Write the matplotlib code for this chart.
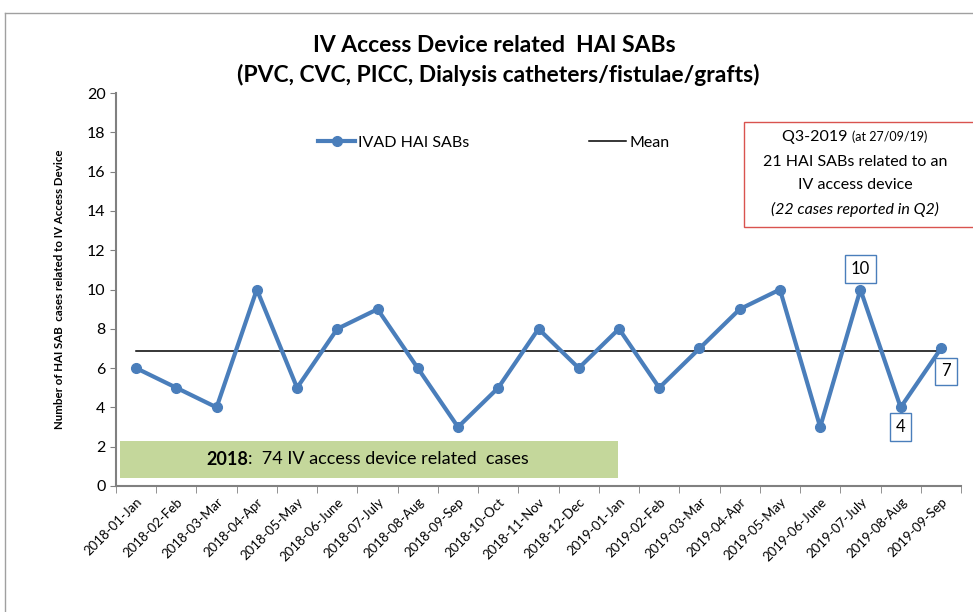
import matplotlib.pyplot as plt
from matplotlib.patches import Rectangle
from matplotlib.text import Annotation
import numpy as np

plt.rcParams['font.family'] = ['Lato', 'DejaVu Sans']

months = ["2018-01-Jan", "2018-02-Feb", "2018-03-Mar", "2018-04-Apr", "2018-05-May",
          "2018-06-June", "2018-07-July", "2018-08-Aug", "2018-09-Sep", "2018-10-Oct",
          "2018-11-Nov", "2018-12-Dec", "2019-01-Jan", "2019-02-Feb", "2019-03-Mar",
          "2019-04-Apr", "2019-05-May", "2019-06-June", "2019-07-July", "2019-08-Aug",
          "2019-09-Sep"]
cases = [6, 5, 4, 10, 5, 8, 9, 6, 3, 5, 8, 6, 8, 5, 7, 9, 10, 3, 10, 4, 7]
mean_value = 6.87
yticks = list(range(0, 21, 2))

blue = "#4a7ebb"

fig = plt.figure(figsize=(9.73, 6.12), dpi=100)
ax = fig.add_axes([0.1192, 0.2059, 0.8685, 0.642])

x = np.arange(len(months))
ax.plot(x, cases, color=blue, lw=3, marker="o", ms=7, label="IVAD HAI SABs", zorder=3)
ax.plot([x[0], x[-1]], [mean_value, mean_value], color="black", lw=1.1, label="Mean", zorder=2)

ax.set_xlim(-0.5, len(months) - 0.5)
ax.set_ylim(0, 20)
ax.set_yticks(yticks)
ax.tick_params(axis="y", labelsize=11.5, length=4, color="#808080")
ax.set_xticks(x)
ax.set_xticklabels(months, rotation=45, ha="right", rotation_mode="anchor", fontsize=9.5)
ax.tick_params(axis="x", which="major", length=0, pad=7)
ax.set_xticks(np.arange(-0.5, len(months)), minor=True)
ax.tick_params(axis="x", which="minor", length=5, color="#808080")
for s in ["top", "right"]:
    ax.spines[s].set_visible(False)
for s in ["left", "bottom"]:
    ax.spines[s].set_color("#808080")
    ax.spines[s].set_linewidth(1.5)

ax.set_ylabel("Number of HAI SAB  cases related to IV Access Device", fontsize=8.3,
              fontweight="bold", labelpad=16)

fig.text(0.508, 0.926, "IV Access Device related  HAI SABs", ha="center", va="center",
         fontsize=16.5, fontweight="bold")
fig.text(0.512, 0.877, "(PVC, CVC, PICC, Dialysis catheters/fistulae/grafts)", ha="center",
         va="center", fontsize=16.5, fontweight="bold")

leg = ax.legend(loc="center", bbox_to_anchor=(0.447, 0.874), ncol=2, frameon=False,
                fontsize=11.5, columnspacing=7.5, handlelength=2.3, handletextpad=0.2)

# green summary band for 2018
ax.add_patch(Rectangle((-0.4, 0.41), 12.37, 1.88, facecolor="#c4d79b", edgecolor="none", zorder=1))
t1 = ax.text(1.75, 1.35, "2018", ha="left", va="center", fontsize=13, fontweight="bold", zorder=2)
ax.annotate(":  74 IV access device related  cases", xy=(1, 0.5), xycoords=t1,
            ha="left", va="center", fontsize=13, zorder=2)

# red info box
fig.patches.append(Rectangle((744 / 973, 1 - 227 / 612), 240 / 973, 105 / 612,
                             transform=fig.transFigure, facecolor="white",
                             edgecolor="#d9534f", lw=1, clip_on=False))
q1 = fig.text(0.804, 0.776, "Q3-2019 ", ha="left", va="center", fontsize=11.5)
fig.add_artist(Annotation("(at 27/09/19)", xy=(1, 0.5), xycoords=q1, ha="left", va="center",
                          fontsize=9))
fig.text(0.879, 0.735, "21 HAI SABs related to an", ha="center", va="center", fontsize=11.5)
fig.text(0.879, 0.698, "IV access device", ha="center", va="center", fontsize=11.5)
fig.text(0.879, 0.658, "(22 cases reported in Q2)", ha="center", va="center", fontsize=11.5,
         style="italic")

# value labels
box = dict(boxstyle="square,pad=0.35", facecolor="white", edgecolor=blue, lw=1)
ax.annotate(str(cases[18]), (18, cases[18]), xytext=(0, 15), textcoords="offset points",
            ha="center", va="center", fontsize=12, bbox=box)
ax.annotate(str(cases[19]), (19, cases[19]), xytext=(0, -14), textcoords="offset points",
            ha="center", va="center", fontsize=12, bbox=box)
ax.annotate(str(cases[20]), (20, cases[20]), xytext=(3.6, -16.5), textcoords="offset points",
            ha="center", va="center", fontsize=12, bbox=box)

# chart frame
fig.add_artist(plt.Line2D([5 / 973, 1], [1 - 13 / 612, 1 - 13 / 612], color="#a0a0a0", lw=1))
fig.add_artist(plt.Line2D([5 / 973, 5 / 973], [0, 1 - 13 / 612], color="#a0a0a0", lw=1))

fig.savefig("out.png", dpi=100)
